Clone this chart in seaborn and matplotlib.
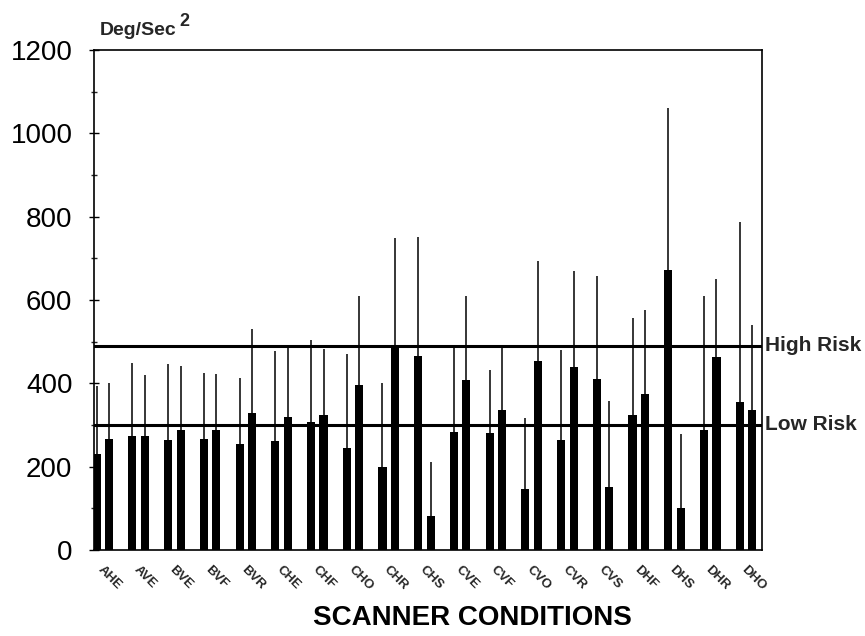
"""
Scanner conditions chart: mean angular acceleration per condition
(two bars per condition) with upper error lines and risk thresholds.
"""

import matplotlib
matplotlib.use("Agg")
import matplotlib.pyplot as plt
import matplotlib.transforms as mtransforms
from matplotlib.ticker import MultipleLocator
import seaborn as sns
import pandas as pd

conditions = ["AHE", "AVE", "BVE", "BVF", "BVR", "CHE", "CHF", "CHO", "CHR", "CHS",
              "CVE", "CVF", "CVO", "CVR", "CVS", "DHF", "DHS", "DHR", "DHO"]
first_mean = [230, 273, 263, 267, 254, 261, 307, 245, 199, 466,
              284, 282, 147, 263, 411, 325, 673, 288, 355]
first_upper = [394, 450, 446, 425, 413, 477, 504, 470, 402, 751,
               487, 433, 316, 479, 658, 557, 1060, 610, 788]
second_mean = [266, 274, 288, 287, 329, 320, 324, 395, 486, 82,
               409, 337, 453, 439, 152, 374, 101, 463, 336]
second_upper = [400, 419, 441, 423, 530, 490, 482, 609, 750, 211,
                610, 491, 693, 669, 357, 576, 278, 651, 540]
high_risk = 490
low_risk = 300

sns.set_theme(style="white")
plt.rcParams["font.family"] = ["Liberation Sans", "DejaVu Sans"]

df = pd.DataFrame({
    "condition": conditions * 2,
    "series": ["first"] * len(conditions) + ["second"] * len(conditions),
    "value": first_mean + second_mean,
    "upper": first_upper + second_upper,
})

fig = plt.figure(figsize=(8.65, 6.36), dpi=100)
ax = fig.add_axes([94 / 865, 86 / 636, 668 / 865, 500 / 636])

sns.barplot(data=df, x="condition", y="value", hue="series",
            order=conditions, hue_order=["first", "second"],
            palette=["black", "black"], saturation=1, width=0.7, gap=0.35,
            errorbar=None, legend=False, linewidth=0, ax=ax)

# upper error lines, one per bar
for container, (_, sub) in zip(ax.containers, df.groupby("series", sort=False)):
    for bar, (_, row) in zip(container, sub.iterrows()):
        x = bar.get_x() + bar.get_width() / 2
        ax.vlines(x, row["value"], row["upper"], color="black", lw=1.1)

# risk thresholds
ax.axhline(high_risk, color="black", lw=2.2)
ax.axhline(low_risk, color="black", lw=2.2)
trans = mtransforms.blended_transform_factory(ax.transAxes, ax.transData)
ax.text(1.005, high_risk, "High Risk", transform=trans, va="center", ha="left",
        fontsize=15, fontweight="bold", clip_on=False)
ax.text(1.005, low_risk, "Low Risk", transform=trans, va="center", ha="left",
        fontsize=15, fontweight="bold", clip_on=False)

ax.set_ylim(0, 1200)
ax.set_xlim(-0.25, 18.45)
ax.yaxis.set_major_locator(MultipleLocator(200))
ax.yaxis.set_minor_locator(MultipleLocator(100))

for side in ["left", "right", "top", "bottom"]:
    ax.spines[side].set_visible(True)
    ax.spines[side].set_color("black")
    ax.spines[side].set_linewidth(1.2)

ax.tick_params(axis="y", which="major", left=True, direction="inout",
               length=7, width=1, pad=12, labelsize=20, colors="black")
ax.tick_params(axis="y", which="minor", left=True, direction="inout",
               length=4, width=1)
ax.tick_params(axis="x", bottom=False, pad=4)

offset = mtransforms.ScaledTranslation(-7 / 100, 0, fig.dpi_scale_trans)
for lbl in ax.get_xticklabels():
    lbl.set_rotation(-45)
    lbl.set_ha("left")
    lbl.set_fontsize(9.5)
    lbl.set_fontweight("bold")
    lbl.set_transform(lbl.get_transform() + offset)

ax.set_ylabel("")
ax.set_xlabel("SCANNER CONDITIONS", fontsize=20, fontweight="bold", color="black")
ax.xaxis.label.set_va("center")
ax.xaxis.set_label_coords(0.566, -0.136)

unit = ax.annotate("Deg/Sec", xy=(0, 1), xycoords="axes fraction",
                   xytext=(4, 8), textcoords="offset points",
                   ha="left", va="bottom", fontsize=14, fontweight="bold")
ax.annotate("2", xy=(1, 0.55), xycoords=unit, xytext=(2, 0),
            textcoords="offset points", ha="left", va="bottom",
            fontsize=13, fontweight="bold")

fig.savefig("out.png", dpi=100)
plt.close(fig)
